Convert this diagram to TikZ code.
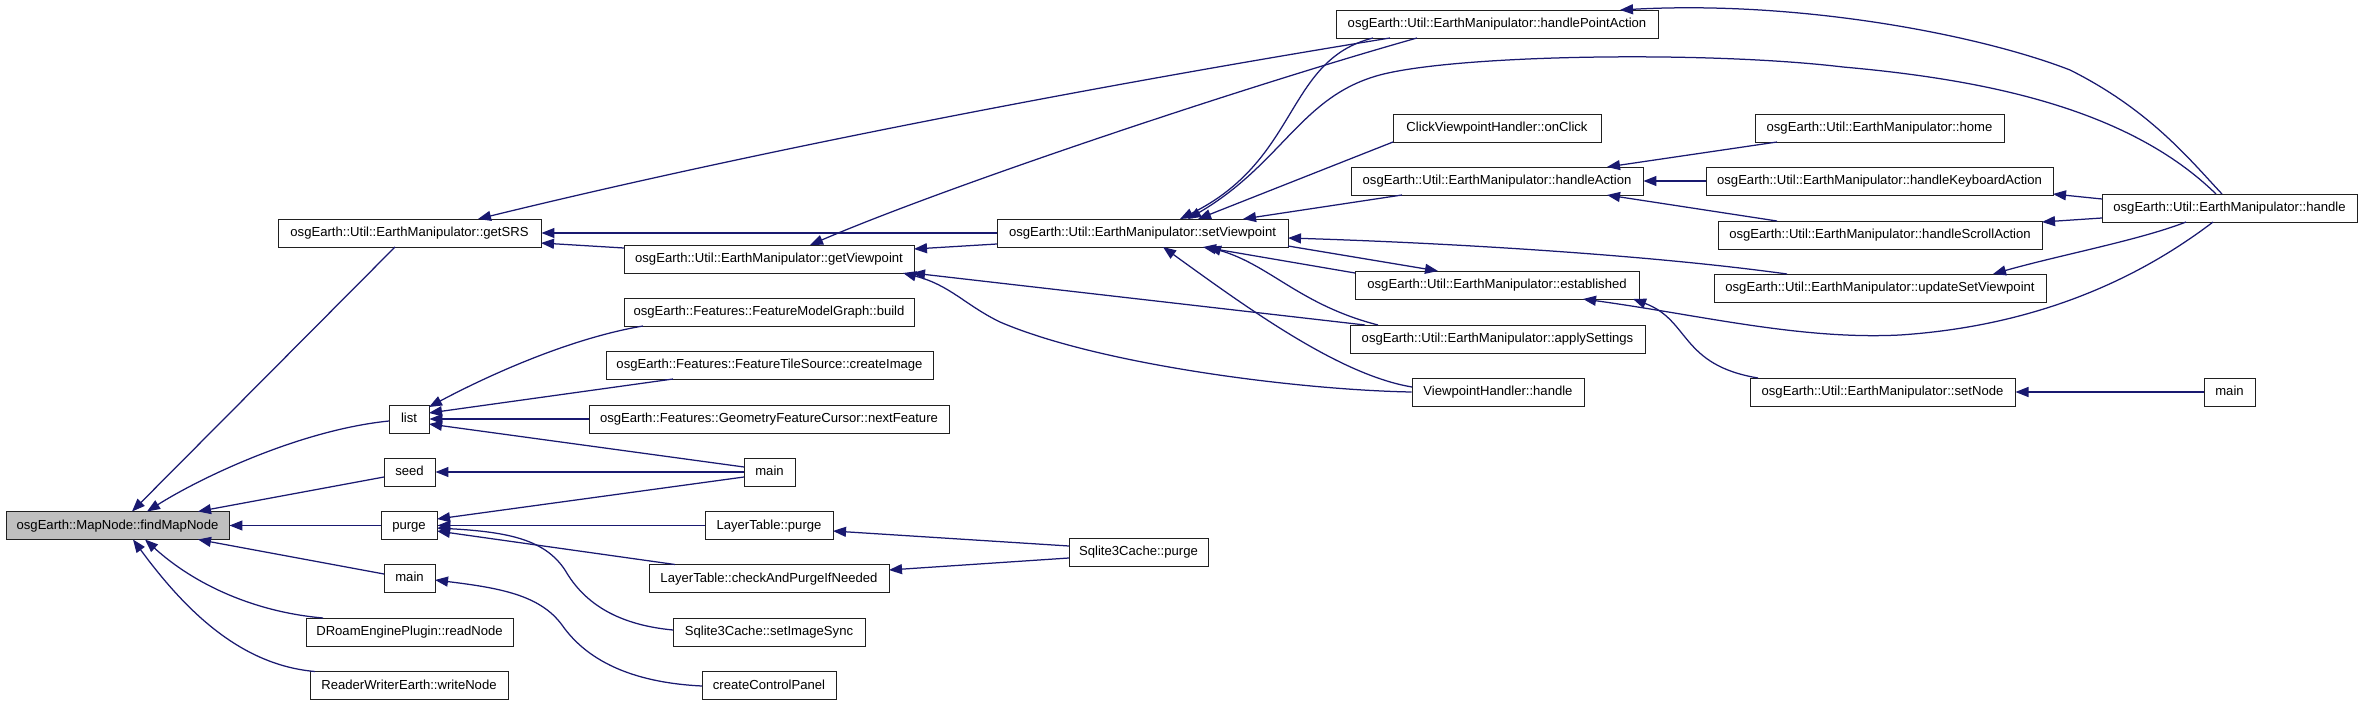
\documentclass[tikz,border=0pt]{standalone}
\usepackage{fontspec}
\setmainfont{Liberation Sans}
\usetikzlibrary{arrows.meta,calc}
\definecolor{edgec}{HTML}{191970}
\definecolor{hl}{HTML}{BFBFBF}
\definecolor{bordc}{HTML}{202020}
\begin{document}
\begin{tikzpicture}[x=1pt,y=-1pt,
  box/.style={draw=bordc, line width=0.95pt, fill=white, minimum height=28pt, inner sep=0pt,
    text height=9.6pt, text depth=2.6pt, font=\fontsize{13.1}{15}\selectfont},
  cl/.style={draw=edgec, line width=1.25pt, {Triangle[length=13pt,width=10pt]}-}]
\useasboundingbox (0,0) rectangle (2363,706);
\fill[white] (0,0) rectangle (2363,706);
% nodes
\node[box, fill=hl, minimum width=223pt] (fmn) at (117.5,525.5) {osgEarth::MapNode::findMapNode};
\node[box, minimum width=263pt] (getSRS) at (409.5,233) {osgEarth::Util::EarthManipulator::getSRS};
\node[box, minimum width=40pt] (list) at (409,419) {list};
\node[box, minimum width=51pt] (seed) at (409.5,472) {seed};
\node[box, minimum width=56pt] (purge) at (409,525.5) {purge};
\node[box, minimum width=51pt] (mainL) at (409.5,578) {main};
\node[box, minimum width=207pt] (readNode) at (409.5,632) {DRoamEnginePlugin::readNode};
\node[box, minimum width=198pt] (writeNode) at (409,685.5) {ReaderWriterEarth::writeNode};
\node[box, minimum width=290pt] (getVP) at (769,259) {osgEarth::Util::EarthManipulator::getViewpoint};
\node[box, minimum width=290pt] (build) at (769,312) {osgEarth::Features::FeatureModelGraph::build};
\node[box, minimum width=327pt] (createImage) at (769.5,365) {osgEarth::Features::FeatureTileSource::createImage};
\node[box, minimum width=360pt] (nextFeature) at (769,419) {osgEarth::Features::GeometryFeatureCursor::nextFeature};
\node[box, minimum width=51pt] (mainM) at (769.5,472) {main};
\node[box, minimum width=128pt] (ltPurge) at (769,525.5) {LayerTable::purge};
\node[box, minimum width=240pt] (checkPurge) at (769,578.5) {LayerTable::checkAndPurgeIfNeeded};
\node[box, minimum width=192pt] (setImageSync) at (769,632) {Sqlite3Cache::setImageSync};
\node[box, minimum width=134pt] (ccp) at (769,685.5) {createControlPanel};
\node[box, minimum width=291pt] (setVP) at (1142.5,233) {osgEarth::Util::EarthManipulator::setViewpoint};
\node[box, minimum width=139pt] (sqPurge) at (1138.5,552) {Sqlite3Cache::purge};
\node[box, minimum width=322pt] (hpa) at (1497,24) {osgEarth::Util::EarthManipulator::handlePointAction};
\node[box, minimum width=208pt] (onClick) at (1497,128) {ClickViewpointHandler::onClick};
\node[box, minimum width=292pt] (hAction) at (1497,181) {osgEarth::Util::EarthManipulator::handleAction};
\node[box, minimum width=284pt] (established) at (1497,285) {osgEarth::Util::EarthManipulator::established};
\node[box, minimum width=295pt] (applySettings) at (1497.5,339) {osgEarth::Util::EarthManipulator::applySettings};
\node[box, minimum width=172pt] (vpHandle) at (1498,392) {ViewpointHandler::handle};
\node[box, minimum width=249pt] (home) at (1879.5,128) {osgEarth::Util::EarthManipulator::home};
\node[box, minimum width=347pt] (hKey) at (1879.5,181) {osgEarth::Util::EarthManipulator::handleKeyboardAction};
\node[box, minimum width=324pt] (hScroll) at (1880,235) {osgEarth::Util::EarthManipulator::handleScrollAction};
\node[box, minimum width=332pt] (updSVP) at (1880,288) {osgEarth::Util::EarthManipulator::updateSetViewpoint};
\node[box, minimum width=265pt] (setNode) at (1882.5,392) {osgEarth::Util::EarthManipulator::setNode};
\node[box, minimum width=255pt] (handle) at (2229.5,208) {osgEarth::Util::EarthManipulator::handle};
\node[box, minimum width=51pt] (mainR) at (2229.5,392) {main};
% edges into findMapNode
\draw[cl] ($(fmn)+(14.5,-14)$) -- ($(getSRS)+(-14.5,14)$);
\draw[cl] ($(fmn)+(29.5,-14)$) .. controls (200,478) and (300,430) .. ($(list)+(-20,2)$);
\draw[cl] ($(fmn)+(80.5,-14)$) -- ($(seed)+(-25.5,5)$);
\draw[cl] (fmn.east) -- (purge.west);
\draw[cl] ($(fmn)+(80.5,14)$) -- ($(mainL)+(-25.5,-4)$);
\draw[cl] ($(fmn)+(27.5,14)$) .. controls (195,585) and (255,612) .. ($(readNode)+(-86.5,-14)$);
\draw[cl] ($(fmn)+(15.5,14)$) .. controls (185,610) and (240,665) .. ($(writeNode)+(-94,-14)$);
% getSRS
\draw[cl] (getSRS.east) -- (setVP.west);
\draw[cl] ($(getSRS)+(131.5,10)$) -- ($(getVP)+(-145,-11)$);
\draw[cl] ($(getSRS)+(68.5,-14)$) .. controls (760,150) and (1100,85) .. ($(hpa)+(-107,14)$);
% getViewpoint
\draw[cl] ($(getVP)+(145,-10)$) -- ($(setVP)+(-145.5,11)$);
\draw[cl] ($(getVP)+(41,-14)$) .. controls (950,185) and (1250,85) .. ($(hpa)+(-80,14)$);
\draw[cl] ($(getVP)+(143,14)$) -- ($(applySettings)+(-132.5,-14)$);
\draw[cl] ($(getVP)+(134,14)$) .. controls (950,285) and (965,305) .. (1000,322)
  .. controls (1100,365) and (1300,390) .. (vpHandle.west);
% setViewpoint
\draw[cl] ($(setVP)+(37.5,-14)$) .. controls (1300,160) and (1285,60) .. ($(hpa)+(-124,14)$);
\draw[cl] ($(setVP)+(45.5,-14)$) .. controls (1280,165) and (1300,100) .. (1373,77)
  .. controls (1440,55) and (1700,50) .. (1843,67)
  .. controls (1990,80) and (2130,110) .. ($(handle)+(-13.5,-14)$);
\draw[cl] ($(setVP)+(55.5,-14)$) -- ($(onClick)+(-104,14)$);
\draw[cl] ($(setVP)+(100.5,-14)$) -- ($(hAction)+(-95,14)$);
\draw[cl] ($(setVP)+(145.5,5)$) .. controls (1450,243) and (1650,255) .. ($(updSVP)+(-93,-14)$);
\draw[cl] ($(established)+(-59,-14)$) -- ($(setVP)+(145.5,13)$);
\draw[cl] ($(setVP)+(60.5,14)$) -- ($(established)+(-142,-12)$);
\draw[cl] ($(setVP)+(65.5,14)$) .. controls (1270,265) and (1300,305) .. ($(applySettings)+(-119.5,-14)$);
\draw[cl] ($(setVP)+(20.5,14)$) .. controls (1250,310) and (1340,375) .. ($(vpHandle)+(-86,-5)$);
% right part
\draw[cl] ($(hpa)+(123,-14)$) .. controls (1800,0) and (1980,35) .. (2070,70)
  .. controls (2150,110) and (2190,160) .. ($(handle)+(-7.5,-14)$);
\draw[cl] ($(hAction)+(110,-14)$) -- ($(home)+(-102.5,14)$);
\draw[cl] (hAction.east) -- (hKey.west);
\draw[cl] ($(hAction)+(110,14)$) -- ($(hScroll)+(-103,-14)$);
\draw[cl] ($(hKey)+(173.5,13)$) -- ($(handle)+(-127.5,-9)$);
\draw[cl] ($(hScroll)+(162,-13)$) -- ($(handle)+(-127.5,10)$);
\draw[cl] ($(updSVP)+(113,-14)$) .. controls (2060,255) and (2140,240) .. ($(handle)+(-43.5,14)$);
\draw[cl] ($(established)+(86,14)$) .. controls (1700,315) and (1800,340) .. (1900,335)
  .. controls (2050,325) and (2150,270) .. ($(handle)+(-16.5,14)$);
\draw[cl] ($(established)+(136,14)$) .. controls (1690,320) and (1680,365) .. ($(setNode)+(-124.5,-14)$);
\draw[cl] (setNode.east) -- (mainR.west);
% middle-left
\draw[cl] ($(list)+(20,-12)$) .. controls (470,385) and (560,340) .. ($(build)+(-126,14)$);
\draw[cl] ($(list)+(20,-6)$) -- ($(createImage)+(-96.5,14)$);
\draw[cl] (list.east) -- (nextFeature.west);
\draw[cl] ($(list)+(20,5)$) -- ($(mainM)+(-25.5,-5)$);
\draw[cl] (seed.east) -- (mainM.west);
\draw[cl] ($(purge)+(28,-6.5)$) -- ($(mainM)+(-25.5,5)$);
\draw[cl] (purge.east) -- (ltPurge.west);
\draw[cl] ($(purge)+(28,5.5)$) -- ($(checkPurge)+(-94,-14)$);
\draw[cl] ($(purge)+(28,2.5)$) .. controls (510,532) and (545,540) .. (565,570)
  .. controls (585,605) and (620,625) .. ($(setImageSync)+(-96,-2)$);
\draw[cl] ($(mainL)+(25.5,2)$) .. controls (500,588) and (540,595) .. (562,625)
  .. controls (590,665) and (640,683) .. ($(ccp)+(-67,0.5)$);
\draw[cl] ($(ltPurge)+(64,5.5)$) -- ($(sqPurge)+(-69.5,-6)$);
\draw[cl] ($(checkPurge)+(120,-8.5)$) -- ($(sqPurge)+(-69.5,6)$);
\end{tikzpicture}
\end{document}
